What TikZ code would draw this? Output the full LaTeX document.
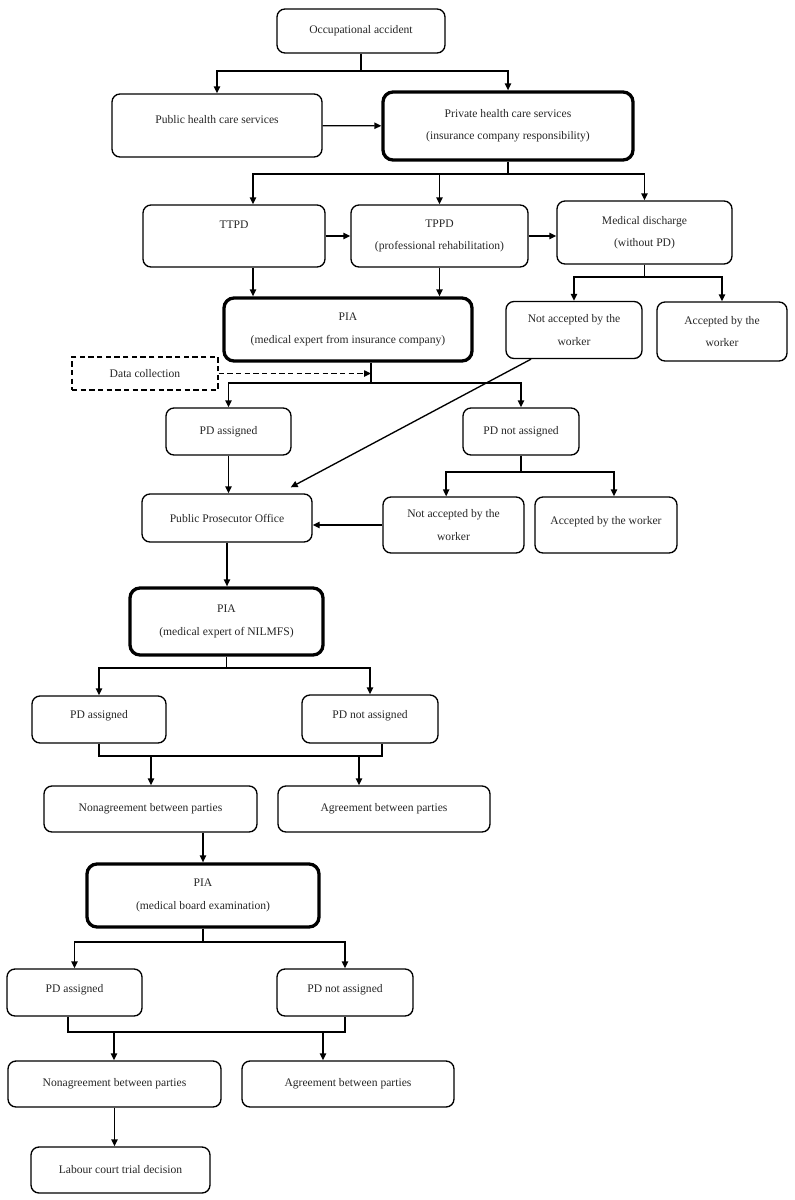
\documentclass[tikz,border=0pt]{standalone}
\usepackage{fontspec}
\setmainfont{Liberation Serif}
\usepackage{tikz}
\usetikzlibrary{arrows.meta}

\tikzset{
  box/.style={draw, rounded corners=0.24cm, align=center, inner sep=0pt, text=black!85},
  keybox/.style={box, line width=2.8pt, rounded corners=0.3cm},
  databox/.style={draw, dash pattern=on 1.6mm off 1mm, align=center, inner sep=0pt, text=black!85},
  wh/.style 2 args={minimum width=#1*0.03cm, minimum height=#2*0.03cm},
  link/.style={-{Triangle[length=2.1mm,width=1.9mm]}}
}

\begin{document}
\begin{tikzpicture}[x=0.03cm, y=-0.03cm, line width=1.15pt, font=\fontsize{9.9}{19}\selectfont]
    \useasboundingbox (0,0) rectangle (795,1200);

    % Accident and first health care
    \node[box, wh={168}{44}] (occ) at (361,31) {Occupational accident};
    \node[box, wh={210}{63}, text depth=10pt] (pub) at (217,125.5) {Public health care services};
    \node[keybox, wh={250}{68}] (priv) at (508,126) {Private health care services\\(insurance company responsibility)};

    \coordinate (j1) at (361,71);
    \draw (occ) -- (j1);
    \draw[link] (j1) -| (pub);
    \draw[link] (j1) -| (priv);
    \draw[link] (pub) -- (priv);

    % Disability types
    \node[box, wh={182}{62}, text depth=20pt] (ttpd) at (234,236) {TTPD};
    \node[box, wh={177}{62}] (tppd) at (439.5,236) {TPPD\\(professional rehabilitation)};
    \node[box, wh={175}{63}] (md) at (644.5,232.5) {Medical discharge\\(without PD)};

    \coordinate (j2) at (508,174);
    \draw (priv) -- (j2);
    \draw[link] (j2) -| ([xshift=0.57cm]ttpd.north);
    \draw[link] (j2) -| (tppd);
    \draw[link] (j2) -| (md);
    \draw[link] (ttpd) -- (tppd);
    \draw[link] (tppd.east) -- (tppd.east -| md.west);

    % First PIA and worker answers
    \node[keybox, wh={248}{63}] (pia1) at (348,329.5) {PIA\\(medical expert from insurance company)};
    \node[box, wh={136}{57}] (na1) at (574,330) {Not accepted by the\\worker};
    \node[box, wh={130}{59}] (acc1) at (722,331.5) {Accepted by the\\worker};
    \node[databox, wh={146}{33}] (data) at (145,373.5) {Data collection};

    \draw[link] ([xshift=0.57cm]ttpd.south) -- ([xshift=0.57cm]ttpd.south |- pia1.north);
    \draw[link] (tppd) -- (tppd |- pia1.north);

    \coordinate (j3) at (644.5,277);
    \draw (md) -- (j3);
    \draw[link] (j3) -| (na1);
    \draw[link] (j3) -| (acc1);

    \coordinate (j4) at (371,383);
    \draw (pia1.south -| j4) -- (j4);
    \draw[link, dash pattern=on 1.6mm off 1mm] (data) -- (data -| j4);

    % Outcome of the first PIA
    \node[box, wh={125}{47}] (pda1) at (228.5,431.5) {PD assigned};
    \node[box, wh={116}{47}] (pdn1) at (521,431.5) {PD not assigned};
    \node[box, wh={170}{48}] (ppo) at (227,518) {Public Prosecutor Office};
    \node[box, wh={141}{56}] (na2) at (453.5,525) {Not accepted by the\\worker};
    \node[box, wh={142}{56}, text depth=8.5pt] (acc2) at (606,525) {Accepted by the worker};

    \draw[link] (j4) -| (pda1);
    \draw[link] (j4) -| (pdn1);
    \draw[link] ([xshift=-1.29cm]na1.south) -- ([xshift=-0.66cm,yshift=0.18cm]ppo.north east);
    \draw[link] (pda1) -- (pda1 |- ppo.north);

    \coordinate (j5) at (521,472);
    \draw (pdn1) -- (j5);
    \draw[link] (j5) -| ([xshift=-0.22cm]na2.north);
    \draw[link] (j5) -| ([xshift=0.24cm]acc2.north);
    \draw[link] (na2) -- (na2 -| ppo.east);

    % Second PIA
    \node[keybox, wh={193}{67}] (pia2) at (226.5,621.5) {PIA\\(medical expert of NILMFS)};
    \node[box, wh={134}{47}, text depth=8pt] (pda2) at (99,719.5) {PD assigned};
    \node[box, wh={136}{48}, text depth=8pt] (pdn2) at (370,719) {PD not assigned};
    \node[box, wh={213}{46}] (nag1) at (150.5,809) {Nonagreement between parties};
    \node[box, wh={212}{46}] (agr1) at (384,809) {Agreement between parties};

    \draw[link] (ppo) -- (ppo |- pia2.north);
    \coordinate (j6) at (226.5,668);
    \draw (pia2) -- (j6);
    \draw[link] (j6) -| (pda2);
    \draw[link] (j6) -| (pdn2);

    \coordinate (j7) at (151,756);
    \coordinate (j8) at (359,756);
    \draw (pda2) |- (j7) -- (j8) -| ([xshift=0.36cm]pdn2.south);
    \draw[link] (j7) -- (j7 |- nag1.north);
    \draw[link] (j8) -- (j8 |- agr1.north);

    % Medical board
    \node[keybox, wh={232}{63}] (pia3) at (203,895.5) {PIA\\(medical board examination)};
    \node[box, wh={135}{47}, text depth=7.5pt] (pda3) at (74.5,992.5) {PD assigned};
    \node[box, wh={136}{47}, text depth=7.5pt] (pdn3) at (345,992.5) {PD not assigned};
    \node[box, wh={213}{46}] (nag2) at (114.5,1084) {Nonagreement between parties};
    \node[box, wh={212}{46}] (agr2) at (348,1084) {Agreement between parties};
    \node[box, wh={179}{46}] (lab) at (120.5,1170) {Labour court trial decision};

    \draw[link] (pia3.north |- nag1.south) -- (pia3.north);
    \coordinate (j9) at (203,942);
    \draw (pia3) -- (j9);
    \draw[link] (j9) -| (pda3);
    \draw[link] (j9) -| (pdn3);

    \coordinate (j10) at (114,1032);
    \coordinate (j11) at (323,1032);
    \draw ([xshift=-0.2cm]pda3.south) |- (j10) -- (j11) -| (pdn3);
    \draw[link] (j10) -- (j10 |- nag2.north);
    \draw[link] (j11) -- (j11 |- agr2.north);
    \draw[link] (nag2) -- (nag2 |- lab.north);
\end{tikzpicture}
\end{document}
